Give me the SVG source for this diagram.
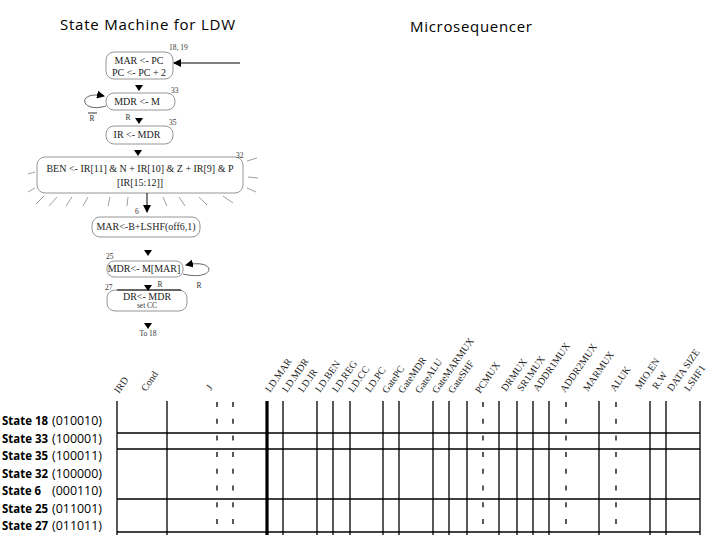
<svg xmlns="http://www.w3.org/2000/svg" width="720" height="540" viewBox="0 0 720 540">
<style>
.title{font-family:"Open Sans","Liberation Sans",sans-serif;font-size:15px;fill:#000}
.sm{font-family:"Liberation Serif",serif;font-size:10px;fill:#222}
.tiny{font-family:"Liberation Serif",serif;font-size:7.5px;fill:#333}
.box{fill:none;stroke:#8a8a8a;stroke-width:0.9}
.ray{stroke:#888;stroke-width:0.8}
.tri{fill:#000}
.col{font-family:"Liberation Serif",serif;font-size:10px;fill:#222}
.st{font-family:"Open Sans","Liberation Sans",sans-serif;font-size:12px;fill:#000}
.sb{font-weight:bold}
.g{stroke:#000;stroke-width:1.3;fill:none}
.gd{stroke:#000;stroke-width:1.3;stroke-dasharray:5 11.7;fill:none}
</style>
<defs>
<marker id="ah" markerWidth="8" markerHeight="8" refX="7" refY="4" orient="auto" markerUnits="userSpaceOnUse"><path d="M0,0 L8,4 L0,8 z" fill="#000"/></marker>
</defs>
<text class="title" x="60" y="30" textLength="175">State Machine for LDW</text>
<text class="title" x="410" y="32" textLength="122">Microsequencer</text>

<g id="s18">
<rect class="box" x="106" y="52" width="67" height="27" rx="8"/>
<text class="sm" x="139" y="64" text-anchor="middle">MAR &lt;- PC</text>
<text class="sm" x="139" y="76" text-anchor="middle">PC &lt;- PC + 2</text>
<text class="tiny" x="169" y="50">18, 19</text>
</g>
<g id="s33">
<rect class="box" x="106" y="93" width="69" height="17" rx="8"/>
<text class="sm" x="137" y="105" text-anchor="middle">MDR &lt;- M</text>
<text class="tiny" x="171" y="93">33</text>
</g>
<g id="s35">
<rect class="box" x="106" y="126" width="67" height="18" rx="8"/>
<text class="sm" x="137" y="138" text-anchor="middle">IR &lt;- MDR</text>
<text class="tiny" x="169" y="125">35</text>
</g>
<g id="s32">
<rect class="box" x="37" y="157" width="206" height="36" rx="8"/>
<text class="sm" x="140" y="172" text-anchor="middle">BEN &lt;- IR[11] &amp; N + IR[10] &amp; Z + IR[9] &amp; P</text>
<text class="sm" x="140" y="186" text-anchor="middle">[IR[15:12]]</text>
<text class="tiny" x="236" y="158">32</text>
<g class="rays">
<line class="ray" x1="44" y1="196" x2="36" y2="204"/>
<line class="ray" x1="57" y1="197" x2="49" y2="206"/>
<line class="ray" x1="72" y1="197" x2="66" y2="206"/>
<line class="ray" x1="88" y1="197" x2="83" y2="206"/>
<line class="ray" x1="110" y1="197" x2="108" y2="206"/>
<line class="ray" x1="128" y1="197" x2="127" y2="206"/>
<line class="ray" x1="163" y1="197" x2="167" y2="206"/>
<line class="ray" x1="179" y1="197" x2="185" y2="206"/>
<line class="ray" x1="199" y1="197" x2="207" y2="205"/>
<line class="ray" x1="223" y1="196" x2="233" y2="203"/>
<line class="ray" x1="247" y1="161" x2="257" y2="158"/>
<line class="ray" x1="248" y1="177" x2="258" y2="178"/>
<line class="ray" x1="247" y1="188" x2="256" y2="192"/>
<line class="ray" x1="35" y1="172" x2="28" y2="174"/>
<line class="ray" x1="35" y1="188" x2="28" y2="192"/>
</g>
</g>
<g id="s6">
<rect class="box" x="92" y="217" width="108" height="20" rx="8"/>
<text class="sm" x="146" y="230" text-anchor="middle">MAR&lt;-B+LSHF(off6,1)</text>
<text class="tiny" x="135" y="214">6</text>
</g>
<g id="s25">
<rect class="box" x="107" y="261" width="76" height="16" rx="7"/>
<text class="sm" x="144" y="272" text-anchor="middle">MDR&lt;- M[MAR]</text>
<text class="tiny" x="106" y="259">25</text>
</g>
<g id="s27">
<rect class="box" x="107" y="290" width="80" height="21" rx="8"/>
<line x1="117" y1="290" x2="181" y2="290" stroke="#000" stroke-width="1"/>
<text class="sm" x="147" y="300" text-anchor="middle">DR&lt;- MDR</text>
<text class="tiny" x="147" y="308" text-anchor="middle">set CC</text>
<text class="tiny" x="105" y="290">27</text>
</g>
<g id="to18">
<text class="tiny" x="148" y="336" text-anchor="middle">To 18</text>
</g>

<g id="connectors">
<line x1="240" y1="63" x2="174" y2="63" stroke="#000" stroke-width="1" marker-end="url(#ah)"/>
<polygon class="tri" points="135,85 143,85 139,91"/>
<path d="M106,106 C80,114 76,90 104,96" fill="none" stroke="#555" stroke-width="0.9" marker-end="url(#ah)"/>
<text class="tiny" x="92" y="121" text-anchor="middle">R</text>
<line x1="88" y1="113" x2="97" y2="113" stroke="#000" stroke-width="0.8"/>
<text class="tiny" x="128" y="120" text-anchor="middle">R</text>
<polygon class="tri" points="135,118 143,118 139,124"/>
<polygon class="tri" points="134,150 142,150 138,156"/>
<line x1="147" y1="193" x2="147" y2="212" stroke="#000" stroke-width="1" marker-end="url(#ah)"/>
<polygon class="tri" points="144,250 152,250 148,256"/>
<path d="M183,274 C216,282 218,258 186,265" fill="none" stroke="#555" stroke-width="0.9" marker-end="url(#ah)"/>
<text class="tiny" x="160" y="287" text-anchor="middle">R</text>
<text class="tiny" x="199" y="288" text-anchor="middle">R</text>
<polygon class="tri" points="144,285 152,285 148,291"/>
<polygon class="tri" points="144,323 152,323 148,329"/>
</g>

<g id="columns">
<text class="col" transform="translate(119,394) rotate(-55)">IRD</text>
<text class="col" transform="translate(146,392) rotate(-55)">Cond</text>
<text class="col" transform="translate(211,391) rotate(-55)">J</text>
<text class="col" transform="translate(270,393) rotate(-55)">LD.MAR</text>
<text class="col" transform="translate(287,393) rotate(-55)">LD.MDR</text>
<text class="col" transform="translate(303,393) rotate(-55)">LD.IR</text>
<text class="col" transform="translate(320,393) rotate(-55)">LD.BEN</text>
<text class="col" transform="translate(337,393) rotate(-55)">LD.REG</text>
<text class="col" transform="translate(353,393) rotate(-55)">LD.CC</text>
<text class="col" transform="translate(370,393) rotate(-55)">LD.PC</text>
<text class="col" transform="translate(387,394) rotate(-55)">GatePC</text>
<text class="col" transform="translate(403,394) rotate(-55)">GateMDR</text>
<text class="col" transform="translate(420,394) rotate(-55)">GateALU</text>
<text class="col" transform="translate(437,394) rotate(-55)">GateMARMUX</text>
<text class="col" transform="translate(453,394) rotate(-55)">GateSHF</text>
<text class="col" transform="translate(480,394) rotate(-55)">PCMUX</text>
<text class="col" transform="translate(506,392) rotate(-55)">DRMUX</text>
<text class="col" transform="translate(522,392) rotate(-55)">SR1MUX</text>
<text class="col" transform="translate(538,392) rotate(-55)">ADDR1MUX</text>
<text class="col" transform="translate(565,393) rotate(-55)">ADDR2MUX</text>
<text class="col" transform="translate(588,392) rotate(-55)">MARMUX</text>
<text class="col" transform="translate(615,392) rotate(-55)">ALUK</text>
<text class="col" transform="translate(640,390) rotate(-55)">MIO.EN</text>
<text class="col" transform="translate(657,390) rotate(-55)">R.W</text>
<text class="col" transform="translate(672,392) rotate(-55)">DATA SIZE</text>
<text class="col" transform="translate(689,392) rotate(-55)">LSHF1</text>
</g>

<g id="rows">
<text class="st sb" x="2" y="425" textLength="46" lengthAdjust="spacingAndGlyphs">State 18</text><text class="st" x="52" y="425" textLength="50" lengthAdjust="spacingAndGlyphs">(010010)</text>
<text class="st sb" x="2" y="442.5" textLength="46" lengthAdjust="spacingAndGlyphs">State 33</text><text class="st" x="52" y="442.5" textLength="50" lengthAdjust="spacingAndGlyphs">(100001)</text>
<text class="st sb" x="2" y="460" textLength="46" lengthAdjust="spacingAndGlyphs">State 35</text><text class="st" x="52" y="460" textLength="50" lengthAdjust="spacingAndGlyphs">(100011)</text>
<text class="st sb" x="2" y="477.5" textLength="46" lengthAdjust="spacingAndGlyphs">State 32</text><text class="st" x="52" y="477.5" textLength="50" lengthAdjust="spacingAndGlyphs">(100000)</text>
<text class="st sb" x="2" y="495" textLength="39" lengthAdjust="spacingAndGlyphs">State 6</text><text class="st" x="52" y="495" textLength="50" lengthAdjust="spacingAndGlyphs">(000110)</text>
<text class="st sb" x="2" y="512.5" textLength="46" lengthAdjust="spacingAndGlyphs">State 25</text><text class="st" x="52" y="512.5" textLength="50" lengthAdjust="spacingAndGlyphs">(011001)</text>
<text class="st sb" x="2" y="530" textLength="46" lengthAdjust="spacingAndGlyphs">State 27</text><text class="st" x="52" y="530" textLength="50" lengthAdjust="spacingAndGlyphs">(011011)</text>
</g>

<g id="grid">
<line class="g" x1="117" y1="433" x2="700" y2="433"/>
<line class="g" x1="117" y1="449" x2="700" y2="449"/>
<line class="g" x1="117" y1="499" x2="700" y2="499"/>
<line class="g" x1="117" y1="532" x2="700" y2="532"/>
<path class="g" d="M117,401V535M167,401V535M283,401V535M317,401V535M333,401V535M350,401V535M383,401V535M399,401V535M433,401V535M449,401V535M467,401V535M499,401V535M517,401V535M533,401V535M549,401V535M599,401V535M650,401V535M666,401V535M700,401V535"/>
<path class="gd" d="M217,402V535M233,402V535M483,402V535M566,402V535M616,402V535"/>
<line x1="267" y1="401" x2="267" y2="535" stroke="#000" stroke-width="3.2"/>
</g>
</svg>
